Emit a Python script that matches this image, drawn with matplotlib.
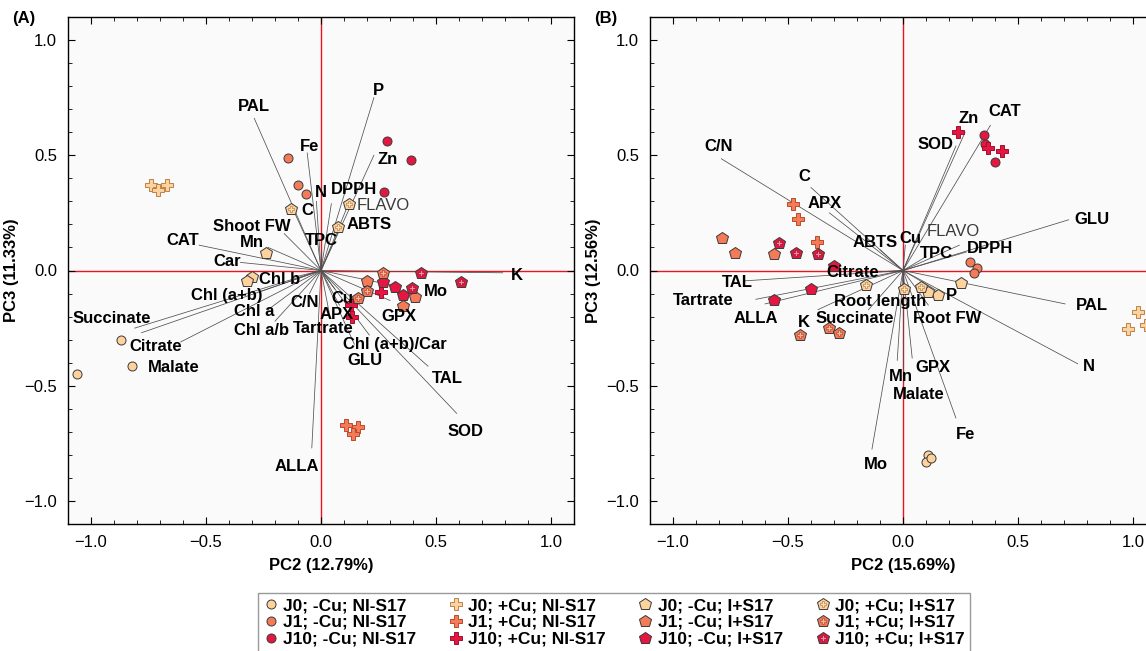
import matplotlib
matplotlib.use("Agg")
import matplotlib.pyplot as plt
from matplotlib.lines import Line2D
from matplotlib.legend_handler import HandlerTuple
from matplotlib.ticker import MultipleLocator

plt.rcParams['font.family'] = ['Liberation Sans', 'DejaVu Sans']

# groups, in legend order (column by column)
groups = ['J0; -Cu; NI-S17', 'J1; -Cu; NI-S17', 'J10; -Cu; NI-S17',
          'J0; +Cu; NI-S17', 'J1; +Cu; NI-S17', 'J10; +Cu; NI-S17',
          'J0; -Cu; I+S17', 'J1; -Cu; I+S17', 'J10; -Cu; I+S17',
          'J0; +Cu; I+S17', 'J1; +Cu; I+S17', 'J10; +Cu; I+S17']

# ---- panel A scores (PC2, PC3)
a_pc2 = [[-1.06, -0.87, -0.82], [-0.145, -0.10, -0.065], [0.285, 0.39, 0.275],
         [-0.74, -0.71, -0.67], [0.11, 0.16, 0.14], [0.26, 0.13, 0.135],
         [-0.24, -0.30, -0.32], [0.20, 0.41, 0.355], [0.27, 0.32, 0.355],
         [-0.13, 0.12, 0.075], [0.27, 0.20, 0.16], [0.435, 0.61, 0.395]]
a_pc3 = [[-0.45, -0.30, -0.415], [0.49, 0.37, 0.33], [0.56, 0.48, 0.34],
         [0.37, 0.35, 0.37], [-0.67, -0.68, -0.71], [-0.095, -0.15, -0.20],
         [0.075, -0.03, -0.045], [-0.045, -0.115, -0.155], [-0.05, -0.07, -0.105],
         [0.265, 0.29, 0.19], [-0.01, -0.09, -0.12], [-0.01, -0.05, -0.075]]

# ---- panel A loadings
a_vars = ['PAL', 'Fe', 'P', 'Zn', 'N', 'DPPH', 'FLAVO', 'C', 'ABTS', 'TPC',
          'Shoot FW', 'CAT', 'Mn', 'Car', 'Chl b', 'Chl (a+b)', 'Chl a', 'Chl a/b',
          'Succinate', 'Citrate', 'Malate', 'C/N', 'Cu', 'APX', 'Tartrate',
          'Chl (a+b)/Car', 'GLU', 'TAL', 'SOD', 'GPX', 'Mo', 'K', 'ALLA']
a_load_x = [-0.29, -0.06, 0.23, 0.23, -0.02, 0.045, 0.12, -0.11, 0.08, 0.0,
            -0.16, -0.53, -0.23, -0.35, -0.12, -0.26, -0.23, -0.20,
            -0.81, -0.61, -0.78, -0.05, 0.06, 0.08, 0.035,
            0.21, 0.145, 0.465, 0.59, 0.30, 0.34, 0.79, -0.04]
a_load_y = [0.66, 0.51, 0.75, 0.50, 0.30, 0.29, 0.29, 0.24, 0.18, 0.09,
            0.16, 0.11, 0.10, 0.035, -0.03, -0.09, -0.17, -0.22,
            -0.25, -0.31, -0.27, -0.10, -0.08, -0.15, -0.18,
            -0.28, -0.32, -0.415, -0.62, -0.13, -0.07, -0.01, -0.77]
a_text_x = [-0.29, -0.05, 0.25, 0.29, 0.0, 0.145, 0.27, -0.06, 0.21, 0.0,
            -0.30, -0.60, -0.30, -0.41, -0.18, -0.41, -0.29, -0.26,
            -0.91, -0.72, -0.64, -0.07, 0.095, 0.07, 0.01,
            0.32, 0.19, 0.55, 0.63, 0.34, 0.50, 0.85, -0.105]
a_text_y = [0.71, 0.54, 0.78, 0.48, 0.34, 0.35, 0.28, 0.26, 0.20, 0.13,
            0.19, 0.13, 0.12, 0.04, -0.04, -0.11, -0.18, -0.26,
            -0.21, -0.33, -0.42, -0.14, -0.12, -0.19, -0.25,
            -0.32, -0.39, -0.47, -0.70, -0.20, -0.09, -0.02, -0.85]

# ---- panel B scores
b_pc2 = [[0.11, 0.10, 0.12], [0.29, 0.32, 0.31], [0.35, 0.355, 0.40],
         [1.02, 0.98, 1.055], [-0.48, -0.455, -0.375], [0.24, 0.37, 0.43],
         [0.25, 0.15, 0.11], [-0.785, -0.73, -0.56], [-0.30, -0.40, -0.56],
         [0.005, 0.08, -0.16], [-0.45, -0.32, -0.28], [-0.54, -0.465, -0.37]]
b_pc3 = [[-0.80, -0.83, -0.815], [0.035, 0.01, -0.01], [0.59, 0.55, 0.47],
         [-0.18, -0.255, -0.235], [0.29, 0.225, 0.125], [0.60, 0.53, 0.52],
         [-0.055, -0.105, -0.095], [0.14, 0.075, 0.07], [0.02, -0.08, -0.13],
         [-0.08, -0.07, -0.065], [-0.28, -0.25, -0.27], [0.12, 0.075, 0.07]]

# ---- panel B loadings
b_vars = ['C/N', 'C', 'APX', 'ABTS', 'Cu', 'Zn', 'SOD', 'CAT', 'FLAVO', 'TPC',
          'DPPH', 'GLU', 'PAL', 'N', 'P', 'Root FW', 'Root length', 'Citrate',
          'Succinate', 'TAL', 'Tartrate', 'ALLA', 'K', 'Mo', 'Mn', 'GPX',
          'Malate', 'Fe']
b_load_x = [-0.79, -0.40, -0.32, -0.10, 0.01, 0.27, 0.23, 0.38, 0.245, 0.10,
            0.275, 0.72, 0.705, 0.76, 0.16, 0.11, 0.0, -0.10,
            -0.15, -0.69, -0.64, -0.60, -0.37, -0.135, -0.025, 0.04,
            0.0, 0.23]
b_load_y = [0.485, 0.36, 0.25, 0.09, 0.11, 0.60, 0.54, 0.63, 0.11, 0.06,
            0.08, 0.22, -0.145, -0.405, -0.095, -0.15, -0.10, -0.005,
            -0.17, -0.045, -0.125, -0.145, -0.17, -0.775, -0.39, -0.38,
            -0.48, -0.64]
b_text_x = [-0.80, -0.43, -0.34, -0.12, 0.03, 0.285, 0.14, 0.44, 0.22, 0.145,
            0.38, 0.82, 0.82, 0.81, 0.21, 0.19, -0.10, -0.22,
            -0.21, -0.72, -0.87, -0.64, -0.43, -0.12, -0.01, 0.13,
            0.07, 0.27]
b_text_y = [0.54, 0.41, 0.29, 0.12, 0.14, 0.66, 0.545, 0.69, 0.17, 0.075,
            0.095, 0.22, -0.15, -0.415, -0.11, -0.21, -0.135, -0.01,
            -0.21, -0.05, -0.13, -0.21, -0.225, -0.84, -0.46, -0.42,
            -0.54, -0.71]

# styles
fill = {'J0': '#FDD29C', 'J1': '#F47A58', 'J10': '#E5163F'}
dark = {'J0': '#B9824A', 'J1': '#B84A2C', 'J10': '#A0102E'}
light = {'J0': '#FBE3C0', 'J1': '#F9B79F', 'J10': '#F58AA0'}


def handles_for(name):
    j = name.split(';')[0]
    if 'NI' in name and '-Cu' in name:
        return [dict(marker='o', ms=6.5, mfc=fill[j], mec='#3a3a3a', mew=0.7)]
    if 'NI' in name:
        return [dict(marker='P', ms=8, mfc=fill[j], mec=dark[j], mew=0.7)]
    base = dict(marker='p', ms=9, mfc=fill[j], mec='#3a3a3a', mew=0.7)
    if '-Cu' in name:
        return [base]
    return [base, dict(marker='P', ms=5, mfc=light[j], mec=dark[j], mew=0.5)]


def panel(ax, px, py, names, lx, ly, tx, ty, xlab, ylab):
    ax.set_facecolor('#FAFAFA')
    ax.axhline(0, color='#E8141E', lw=1.0, zorder=1)
    ax.axvline(0, color='#E8141E', lw=1.0, zorder=1)
    for n, x, y in zip(names, lx, ly):
        ax.plot([0, x], [0, y], color='#505050', lw=0.55, zorder=2)
    for n, x, y in zip(names, tx, ty):
        if n == 'FLAVO':
            ax.text(x, y, n, ha='center', va='center', fontsize=12, color='#3a3a3a', zorder=5)
        else:
            ax.text(x, y, n, ha='center', va='center', fontsize=12, fontweight='bold', zorder=5)
    for g, xs, ys in zip(groups, px, py):
        for st in handles_for(g):
            ax.plot(xs, ys, ls='none', zorder=4, **st)
    ax.set_xlim(-1.1, 1.1)
    ax.set_ylim(-1.1, 1.1)
    ax.xaxis.set_major_locator(MultipleLocator(0.5))
    ax.yaxis.set_major_locator(MultipleLocator(0.5))
    ax.xaxis.set_minor_locator(MultipleLocator(0.1))
    ax.yaxis.set_minor_locator(MultipleLocator(0.1))
    ax.tick_params(which='both', direction='in', top=True, right=True, labelsize=12)
    ax.tick_params(which='major', length=5, pad=8)
    ax.tick_params(which='minor', length=3)
    ax.set_xlabel(xlab, fontsize=12, fontweight='bold', labelpad=6)
    ax.set_ylabel(ylab, fontsize=12, fontweight='bold', labelpad=4)
    for s in ax.spines.values():
        s.set_linewidth(1.0)


fig = plt.figure(figsize=(11.46, 6.51), dpi=100)
ax_a = fig.add_axes([68 / 1146, 127 / 651, 506 / 1146, 507 / 651])
ax_b = fig.add_axes([650 / 1146, 127 / 651, 506 / 1146, 507 / 651])

panel(ax_a, a_pc2, a_pc3, a_vars, a_load_x, a_load_y, a_text_x, a_text_y,
      'PC2 (12.79%)', 'PC3 (11.33%)')
panel(ax_b, b_pc2, b_pc3, b_vars, b_load_x, b_load_y, b_text_x, b_text_y,
      'PC2 (15.69%)', 'PC3 (12.56%)')

fig.text(12 / 1146, 1 - 18 / 651, '(A)', fontsize=12, fontweight='bold', va='center')
fig.text(594 / 1146, 1 - 18 / 651, '(B)', fontsize=12, fontweight='bold', va='center')

leg_handles = []
for g in groups:
    hs = tuple(Line2D([], [], ls='none', **st) for st in handles_for(g))
    leg_handles.append(hs if len(hs) > 1 else hs[0])

fig.legend(leg_handles, groups, loc='upper center', bbox_to_anchor=(614 / 1146, 1 - 584 / 651),
           ncol=4, prop={'weight': 'bold', 'size': 12.5}, frameon=True, fancybox=False,
           edgecolor='#808080', handlelength=0.8, handletextpad=0.3, columnspacing=1.9,
           labelspacing=0.1, borderpad=0.3,
           handler_map={tuple: HandlerTuple(ndivide=1, pad=0)})

fig.savefig('out.png', dpi=100)
